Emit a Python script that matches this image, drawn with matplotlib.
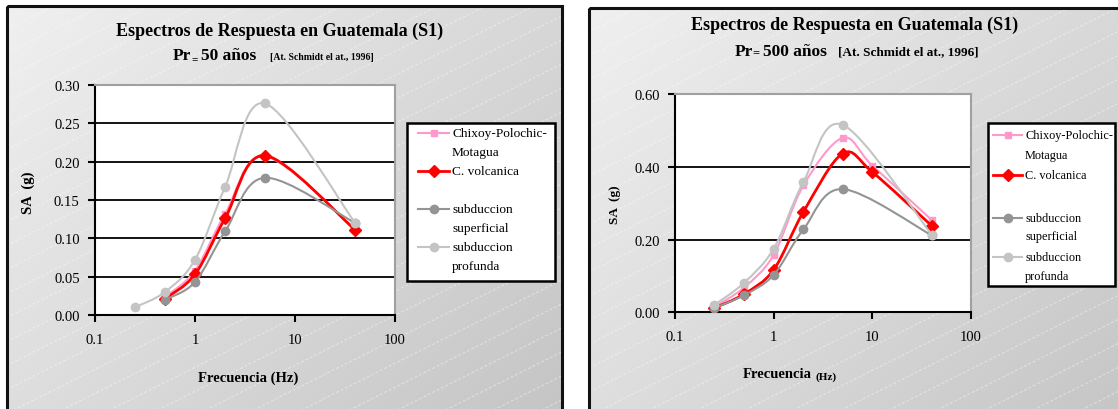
import numpy as np
import matplotlib
matplotlib.use("Agg")
import matplotlib.pyplot as plt
from matplotlib.path import Path
from matplotlib.patches import PathPatch, Rectangle
from matplotlib.lines import Line2D

plt.rcParams['font.family'] = ['Liberation Serif', 'DejaVu Serif']

# ---- datos Pr = 50 años ----
freq_50 = [0.5, 1, 2, 5, 40]
freq_prof_50 = [0.25, 0.5, 1, 2, 5, 40]
chixoy_50 = [0.023, 0.058, 0.132, 0.207, 0.112]
volcanica_50 = [0.021, 0.053, 0.126, 0.208, 0.111]
superficial_50 = [0.020, 0.043, 0.109, 0.179, 0.120]
profunda_50 = [0.010, 0.030, 0.072, 0.167, 0.276, 0.120]

# ---- datos Pr = 500 años ----
freq_500 = [0.25, 0.5, 1, 2, 5, 10, 40]
freq_sub_500 = [0.25, 0.5, 1, 2, 5, 40]
chixoy_500 = [0.015, 0.068, 0.158, 0.349, 0.480, 0.404, 0.254]
volcanica_500 = [0.012, 0.050, 0.117, 0.276, 0.437, 0.386, 0.238]
superficial_500 = [0.012, 0.047, 0.103, 0.228, 0.339, 0.212]
profunda_500 = [0.020, 0.081, 0.175, 0.358, 0.516, 0.214]

xticks = [0.1, 1, 10, 100]
xtick_labels = ['0.1', '1', '10', '100']

PINK = '#FF99CC'
RED = '#FF0000'
DGRAY = '#949494'
LGRAY = '#C4C4C4'

styles = [
    dict(color=PINK, marker='s', ms=4.5, lw=1.5),
    dict(color=RED, marker='D', ms=6, lw=2.0),
    dict(color=DGRAY, marker='o', ms=6, lw=1.5),
    dict(color=LGRAY, marker='o', ms=6, lw=1.5),
]

W, H = 1118, 410
fig = plt.figure(figsize=(W / 100, H / 100), dpi=100)
fig.patch.set_facecolor('white')

# fondo en coordenadas de pixel
bg = fig.add_axes([0, 0, 1, 1], zorder=0)
bg.set_xlim(0, W)
bg.set_ylim(H, 0)
bg.axis('off')


def chart_frame(x0, y0, x1, y1):
    xs = np.arange(x0, x1)
    ys = np.arange(y0, y1)
    X, Y = np.meshgrid(xs - x0, ys - y0)
    val = (240 - 0.045 * (X + Y)) / 255.0
    img = np.dstack([val, val, val])
    clip = Rectangle((x0, y0), x1 - x0, y1 - y0, transform=bg.transData)
    im = bg.imshow(img, extent=(x0, x1, y1, y0), interpolation='bilinear', zorder=0)
    im.set_clip_path(clip)
    # rayas diagonales
    for c in np.arange(y0, y1 + 0.5 * (x1 - x0) + 30, 24):
        ln, = bg.plot([x0, x1], [c, c - 0.5 * (x1 - x0)], color='white', lw=0.7,
                      alpha=0.45, ls=(0, (3, 2)), zorder=1)
        ln.set_clip_path(clip)
    bg.add_patch(Rectangle((x0, y0), x1 - x0, y1 - y0, fill=False, ec='#111111',
                           lw=2.2, zorder=2))


chart_frame(6.5, 6.5, 562, 425)
chart_frame(589, 9, 1130, 425)


def smooth_path(x, y):
    pts = np.column_stack([np.log10(x), y])
    n = len(pts)
    verts = [pts[0]]
    codes = [Path.MOVETO]
    for i in range(n - 1):
        p0 = pts[i - 1] if i > 0 else pts[i]
        p1 = pts[i]
        p2 = pts[i + 1]
        p3 = pts[i + 2] if i + 2 < n else pts[i + 1]
        verts += [p1 + (p2 - p0) / 6.0, p2 - (p3 - p1) / 6.0, p2]
        codes += [Path.CURVE4] * 3
    verts = np.array(verts)
    verts[:, 0] = 10 ** verts[:, 0]
    return Path(verts, codes)


def make_axes(px0, px1, py_top, py_bot, ymax, ystep, series):
    ax = fig.add_axes([px0 / W, 1 - py_bot / H, (px1 - px0) / W, (py_bot - py_top) / H], zorder=2)
    ax.set_facecolor('white')
    ax.set_xscale('log')
    ax.set_xlim(0.1, 100)
    ax.set_ylim(0, ymax)
    ax.set_xticks(xticks)
    ax.set_xticklabels(xtick_labels)
    ax.minorticks_off()
    yt = np.arange(0, ymax + ystep / 2, ystep)
    ax.set_yticks(yt)
    ax.set_yticklabels(['%.2f' % v for v in yt])
    for v in yt[1:-1]:
        ax.axhline(v, color='black', lw=1.3, zorder=1)
    for s in ['top', 'right']:
        ax.spines[s].set_color('#A0A0A0')
        ax.spines[s].set_linewidth(1.5)
    for s in ['left', 'bottom']:
        ax.spines[s].set_color('black')
        ax.spines[s].set_linewidth(1.5)
    ax.tick_params(axis='both', direction='out', length=5, width=1.5, labelsize=10.5,
                   pad=6)
    ax.tick_params(axis='x', pad=8)
    # orden de dibujo: grises debajo, rojo arriba
    for idx in [3, 2, 0, 1]:
        x, y = series[idx]
        st = styles[idx]
        ax.add_patch(PathPatch(smooth_path(x, y), fill=False, ec=st['color'],
                               lw=st['lw'], zorder=3 + idx * 0.1))
        ax.plot(x, y, ls='none', marker=st['marker'], ms=st['ms'], color=st['color'],
                mec=st['color'], zorder=3.05 + idx * 0.1)
    return ax


ax1 = make_axes(95, 395, 86, 316, 0.30, 0.05,
                [(freq_50, chixoy_50), (freq_50, volcanica_50),
                 (freq_50, superficial_50), (freq_prof_50, profunda_50)])
ax2 = make_axes(675, 971, 95.3, 313.3, 0.60, 0.20,
                [(freq_500, chixoy_500), (freq_500, volcanica_500),
                 (freq_sub_500, superficial_500), (freq_sub_500, profunda_500)])


def legend_box(x0, y0, x1, y1, hx0, hx1, tx, lines, handle_rows, fs):
    bg.add_patch(Rectangle((x0, y0), x1 - x0, y1 - y0, fc='white', ec='black',
                           lw=1.8, zorder=3))
    for st, yy in zip(styles, handle_rows):
        bg.add_line(Line2D([hx0, hx1], [yy, yy], color=st['color'], lw=st['lw'], zorder=4))
        bg.add_line(Line2D([(hx0 + hx1) / 2], [yy], color=st['color'], marker=st['marker'],
                           ms=st['ms'], zorder=5))
    for txt, yy in lines:
        bg.text(tx, yy, txt, fontsize=fs, ha='left', va='center', zorder=5)


labels_txt = ['Chixoy-Polochic-', 'Motagua', 'C. volcanica', 'subduccion',
              'superficial', 'subduccion', 'profunda']

legend_box(407, 124, 555, 282, 418, 449, 452,
           list(zip(labels_txt, [134, 153, 172, 210, 229, 248, 267])),
           [134, 172, 210, 248], 9.6)
legend_box(988, 124, 1115, 287, 993, 1022, 1025,
           list(zip(labels_txt, [136, 156, 176, 219, 237, 258, 277])),
           [136, 176, 219, 258], 8.8)

# titulos
bg.text(280, 31, 'Espectros de Respuesta en Guatemala (S1)', fontsize=13, weight='bold',
        ha='center', va='center')
bg.text(173, 56, 'Pr', fontsize=12.5, weight='bold', ha='left', va='center')
bg.text(191, 60, '=', fontsize=8, weight='bold', ha='left', va='center')
bg.text(201, 56, '50 años', fontsize=12.5, weight='bold', ha='left', va='center')
bg.text(270, 58, '[At. Schmidt el at., 1996]', fontsize=7, weight='bold', ha='left',
        va='center')

bg.text(855, 25, 'Espectros de Respuesta en Guatemala (S1)', fontsize=13, weight='bold',
        ha='center', va='center')
bg.text(735, 52, 'Pr', fontsize=12.5, weight='bold', ha='left', va='center')
bg.text(752, 53, '=', fontsize=9, weight='bold', ha='left', va='center')
bg.text(763, 52, '500 años', fontsize=12.5, weight='bold', ha='left', va='center')
bg.text(838, 52, '[At. Schmidt el at., 1996]', fontsize=9.5, weight='bold', ha='left',
        va='center')

# ejes
bg.text(248, 378, 'Frecuencia (Hz)', fontsize=10.5, weight='bold', ha='center', va='center')
bg.text(28, 193, 'SA  (g)', fontsize=10.5, weight='bold', ha='center', va='center',
        rotation=90)
bg.text(812, 375, 'Frecuencia', fontsize=10.5, weight='bold', ha='right', va='center')
bg.text(815, 377, '(Hz)', fontsize=8, weight='bold', ha='left', va='center')
bg.text(615, 205, 'SA  (g)', fontsize=9.5, weight='bold', ha='center', va='center',
        rotation=90)

fig.savefig('out.png', dpi=100, facecolor=fig.get_facecolor())
